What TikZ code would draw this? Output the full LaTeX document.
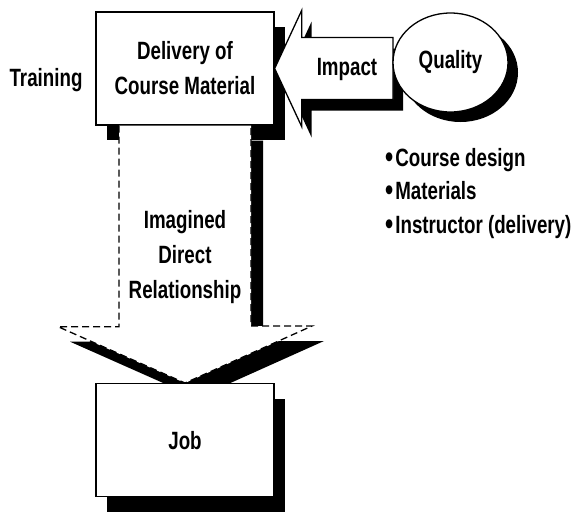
\documentclass[tikz,border=0pt]{standalone}
\usepackage{fontspec}
\setmainfont{Liberation Sans}[FakeStretch=0.75]
\usetikzlibrary{shapes.geometric,shadows,calc}

\newcommand{\bigdot}{\raisebox{-1pt}{\fontsize{31}{35}\selectfont\textbullet}\hspace{2pt}}

\tikzset{
  blackshadow/.style 2 args={drop shadow={shadow xshift=#1, shadow yshift=#2, fill=black, opacity=1}},
  plainbox/.style={rectangle, draw, line width=1.3pt, fill=white, minimum width=178pt, minimum height=113pt, inner sep=0pt, align=center, blackshadow={11pt}{-15pt}},
  blockarrow/.style={draw, line width=1.3pt, fill=white},
  pointtext/.style={anchor=base west, inner sep=0pt},
}

\begin{document}
\begin{tikzpicture}[x=1pt, y=-1pt, every node/.style={font=\fontsize{25}{35}\selectfont\bfseries}]
\useasboundingbox (0,0) rectangle (579,512);

% Training side label
\node[anchor=base] (training) at (46,86) {Training};

% Delivery box
\node[plainbox] (delivery) at (185,68.5) {\raisebox{-3pt}{\parbox{170pt}{\centering Delivery of\\Course Material}}};

% Imagined relationship arrow (dashed)
\coordinate (jobtop) at (185,383);
\draw[blockarrow, dash pattern=on 7pt off 4pt, blackshadow={12pt}{-15pt}]
  ([xshift=-66pt]delivery.south) -- ++(0,201) -- ++(-61,0) -- (jobtop)
  -- ++(127,-57) -- ++(-61,0) -- ([xshift=66pt]delivery.south);
\node[align=center] (imagined) at (185,257) {Imagined\\Direct\\Relationship};

% Job box
\node[plainbox, anchor=north] (job) at (jobtop) {\raisebox{-3pt}{Job}};

% Impact arrow
\coordinate (qleft) at (393,68.5);
\draw[blockarrow, blackshadow={10pt}{-11pt}]
  (delivery.east) -- ++(27,-58) -- ++(0,27) -- ($(qleft)+(0,-31)$) -- ++(0,62)
  -- ($(delivery.east)+(27,31)$) -- ++(0,27) -- cycle;
\node (impact) at (347,69) {Impact};

% Quality circle
\node[ellipse, draw, line width=1.3pt, fill=white, minimum width=115pt, minimum height=99pt, inner sep=0pt, blackshadow={10pt}{-10pt}] (quality) at (450.5,62.5) {Quality};

% Quality points
\node[pointtext] (design) at (385,166) {\bigdot Course design};
\node[pointtext] (materials) at (385,199.5) {\bigdot Materials};
\node[pointtext] (instructor) at (385,233) {\bigdot Instructor (delivery)};
\end{tikzpicture}
\end{document}
